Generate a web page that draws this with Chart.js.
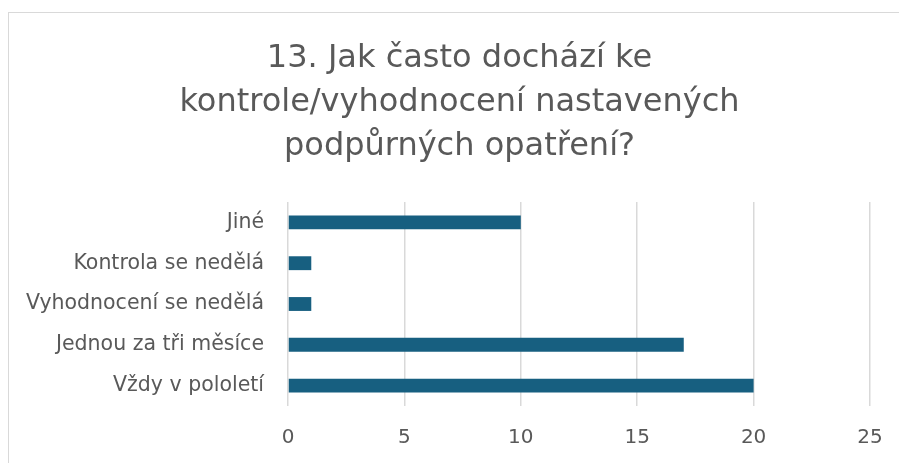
<!DOCTYPE html>
<html>
<head>
<meta charset="utf-8">
<script src="https://cdn.jsdelivr.net/npm/chart.js@4"></script>
<style>
    html, body { margin: 0; padding: 0; background: #fff; overflow: hidden; }
    #wrap { position: relative; width: 899px; height: 463px; overflow: hidden; }
    #frame {
        position: absolute; left: 8px; top: 12px; right: -20px; bottom: -20px;
        border-left: 1px solid #d9d9d9; border-top: 1px solid #d9d9d9;
    }
    canvas { position: absolute; left: 0; top: 0; }
</style>
</head>
<body>
<div id="wrap">
    <div id="frame"></div>
    <!-- the chart is a bit wider than the window, like the cropped original -->
    <canvas id="chart" width="919" height="463"></canvas>
</div>
<script>
"use strict";

const TITLE_LINES = ["13. Jak často dochází ke", "kontrole/vyhodnocení nastavených", "podpůrných opatření?"];
const categories = ["Jiné", "Kontrola se nedělá", "Vyhodnocení se nedělá", "Jednou za tři měsíce", "Vždy v pololetí"];
const counts = [10, 1, 1, 17, 20];
const xTicks = [0, 5, 10, 15, 20, 25];

const TEXT_COLOR = "#595959";
const BAR_COLOR = "#175f80";
const GRID_COLOR = "#d9d9d9";
const FONT = "'DejaVu Sans', sans-serif";

const CANVAS_W = 919, CANVAS_H = 463;
const AREA_LEFT = 288, AREA_RIGHT = 870, AREA_BOTTOM = 406;

new Chart(document.getElementById("chart"), {
    type: "bar",
    data: {
        labels: categories,
        datasets: [{
            data: counts,
            backgroundColor: BAR_COLOR,
            categoryPercentage: 1,
            barPercentage: 0.34
        }]
    },
    options: {
        indexAxis: "y",
        responsive: false,
        animation: false,
        layout: { padding: { left: 0, right: 0, top: 12, bottom: 0 } },
        plugins: {
            legend: { display: false },
            tooltip: { enabled: false },
            title: {
                display: true,
                text: TITLE_LINES,
                color: TEXT_COLOR,
                font: { family: FONT, size: 32, weight: "normal", lineHeight: 1.375 },
                padding: { top: 25, bottom: 33 }
            }
        },
        scales: {
            x: {
                min: xTicks[0],
                max: xTicks[xTicks.length - 1],
                afterBuildTicks: scale => { scale.ticks = xTicks.map(v => ({ value: v })); },
                afterFit: scale => { scale.height = CANVAS_H - AREA_BOTTOM; },
                grid: { color: GRID_COLOR, lineWidth: 1.5, drawTicks: false },
                border: { display: false },
                ticks: { color: TEXT_COLOR, padding: 20, font: { family: FONT, size: 20 } }
            },
            y: {
                afterFit: scale => { scale.width = AREA_LEFT; },
                grid: { display: false },
                border: { display: false },
                ticks: { color: TEXT_COLOR, padding: 16, font: { family: FONT, size: 20.5 } }
            },
            // empty box on the right, keeps the plot narrower than the title area
            spacer: {
                type: "category",
                labels: categories,
                position: "right",
                afterFit: scale => { scale.width = CANVAS_W - AREA_RIGHT; },
                grid: { display: false },
                border: { display: false },
                ticks: { display: false }
            }
        }
    }
});
</script>
</body>
</html>
